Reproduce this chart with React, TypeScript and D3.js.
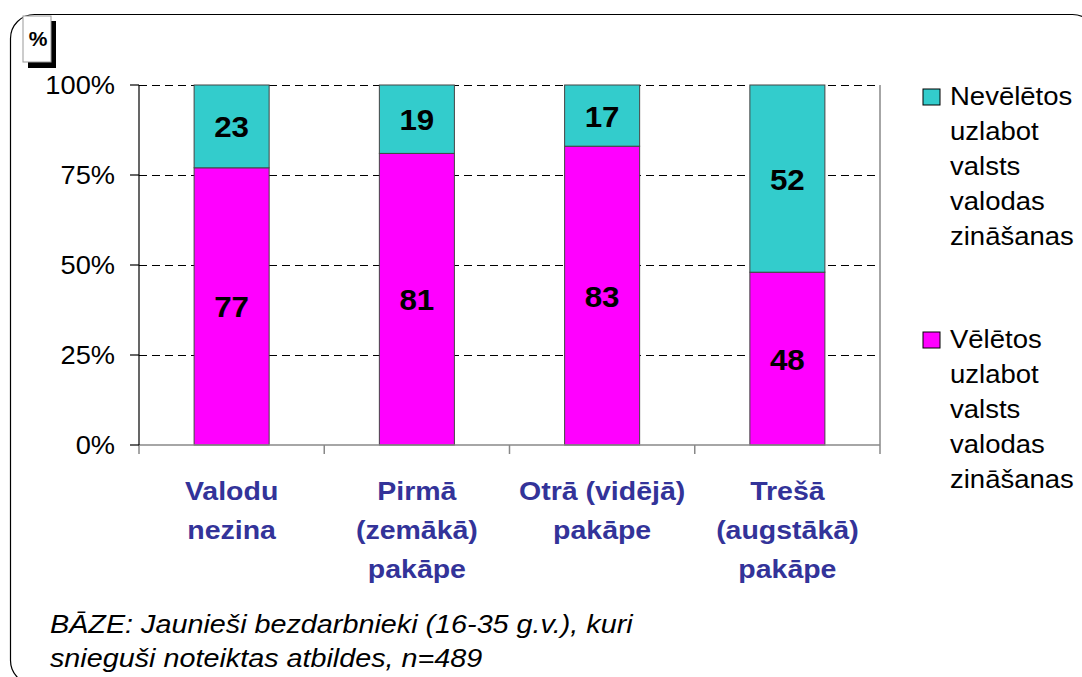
import React from 'react';
import * as d3 from 'd3';

const categories = [
  ['Valodu', 'nezina'],
  ['Pirmā', '(zemākā)', 'pakāpe'],
  ['Otrā (vidējā)', 'pakāpe'],
  ['Trešā', '(augstākā)', 'pakāpe'],
];
const wantToImprove = [77, 81, 83, 48];
const dontWantToImprove = [23, 19, 17, 52];
const yTicks = [0, 25, 50, 75, 100];
const legendItems = [
  { color: '#33CCCC', lines: ['Nevēlētos', 'uzlabot', 'valsts', 'valodas', 'zināšanas'] },
  { color: '#FF00FF', lines: ['Vēlētos', 'uzlabot', 'valsts', 'valodas', 'zināšanas'] },
];
const footnote = [
  'BĀZE: Jaunieši bezdarbnieki (16-35 g.v.), kuri',
  'snieguši noteiktas atbildes, n=489',
];

const font = 'Arial, "Liberation Sans", sans-serif';

// text that is stretched a bit wider, like the original export
function WideText({ x, y, sx, children, ...rest }: any) {
  return (
    <text transform={`translate(${x},${y}) scale(${sx},1)`} {...rest}>{children}</text>
  );
}

export default function App() {
  const left = 139, right = 880, top = 85, bottom = 445;

  const x = d3.scaleBand<number>()
    .domain(d3.range(categories.length))
    .range([left, right])
    .paddingInner(0)
    .paddingOuter(0);
  const y = d3.scaleLinear().domain([0, 100]).range([bottom, top]);

  const band = x.bandwidth();
  const barW = band * 0.405;

  const stacked = categories.map((_, i) => [
    { y0: 0, y1: wantToImprove[i], color: '#FF00FF', v: wantToImprove[i] },
    { y0: wantToImprove[i], y1: wantToImprove[i] + dontWantToImprove[i], color: '#33CCCC', v: dontWantToImprove[i] },
  ]);

  const boundaries = d3.range(categories.length + 1).map(i => left + i * band);

  return (
    <svg width={1082} height={677} style={{ position: 'absolute', left: 0, top: 0, fontFamily: font }}>
      <rect x={0} y={0} width={1082} height={677} fill="#fff" />
      <rect x={10.5} y={14.5} width={1086} height={670} rx={24} ry={24} fill="#fff" stroke="#000" strokeWidth={1.2} />

      {/* % box */}
      <rect x={28} y={21} width={28} height={47} fill="#000" />
      <rect x={23} y={16} width={28} height={46} fill="#fff" stroke="#999" strokeWidth={1} />
      <text x={38} y={46} textAnchor="middle" fontSize={21} fontWeight="bold">%</text>

      {/* gridlines */}
      {yTicks.filter(t => t > 0).map(t => (
        <line key={t} x1={left} x2={right} y1={y(t) + 0.5} y2={y(t) + 0.5} stroke="#000" strokeWidth={1} strokeDasharray="8 5" />
      ))}

      {/* bars */}
      {stacked.map((segs, i) => {
        const bx = (x(i) as number) + (band - barW) / 2;
        return (
          <g key={i}>
            {segs.map((s, j) => (
              <g key={j}>
                <rect x={bx} y={y(s.y1)} width={barW} height={y(s.y0) - y(s.y1)} fill={s.color} stroke="#444" strokeWidth={1} />
                <WideText x={bx + barW / 2} y={(y(s.y0) + y(s.y1)) / 2 + 11} sx={1.08} textAnchor="middle" fontSize={29} fontWeight="bold" fill="#000">{s.v}</WideText>
              </g>
            ))}
          </g>
        );
      })}

      {/* axes */}
      <line x1={right} x2={right} y1={top} y2={bottom} stroke="#888" strokeWidth={1.5} />
      <line x1={left} x2={right} y1={bottom} y2={bottom} stroke="#888" strokeWidth={1.5} />
      {boundaries.map((b, i) => (
        <line key={i} x1={b} x2={b} y1={bottom} y2={bottom + 9} stroke="#888" strokeWidth={1.5} />
      ))}
      <line x1={left} x2={left} y1={top} y2={bottom} stroke="#000" strokeWidth={1.2} />
      {yTicks.map(t => (
        <g key={t}>
          <line x1={left - 9} x2={left} y1={y(t)} y2={y(t)} stroke="#000" strokeWidth={1.2} />
          <WideText x={115} y={y(t) + 9} sx={1.09} textAnchor="end" fontSize={25} fill="#000">{t}%</WideText>
        </g>
      ))}

      {/* category labels */}
      {categories.map((lines, i) => (
        <g key={i}>
          {lines.map((l, k) => (
            <WideText key={k} x={(x(i) as number) + band / 2} y={500 + k * 39} sx={1.14} textAnchor="middle" fontSize={25} fontWeight="bold" fill="#333399">{l}</WideText>
          ))}
        </g>
      ))}

      {/* legend */}
      {legendItems.map((item, i) => {
        const y0 = 105 + i * 243;
        return (
          <g key={i}>
            <rect x={923} y={y0 - 16} width={17} height={16} fill={item.color} stroke="#000" strokeWidth={1} />
            {item.lines.map((l, k) => (
              <WideText key={k} x={950} y={y0 + k * 35} sx={1.1} fontSize={25} fill="#000">{l}</WideText>
            ))}
          </g>
        );
      })}

      {/* footnote */}
      {footnote.map((l, k) => (
        <WideText key={k} x={50} y={633 + k * 34} sx={1.15} fontSize={25} fontStyle="italic" fill="#000">{l}</WideText>
      ))}
    </svg>
  );
}
